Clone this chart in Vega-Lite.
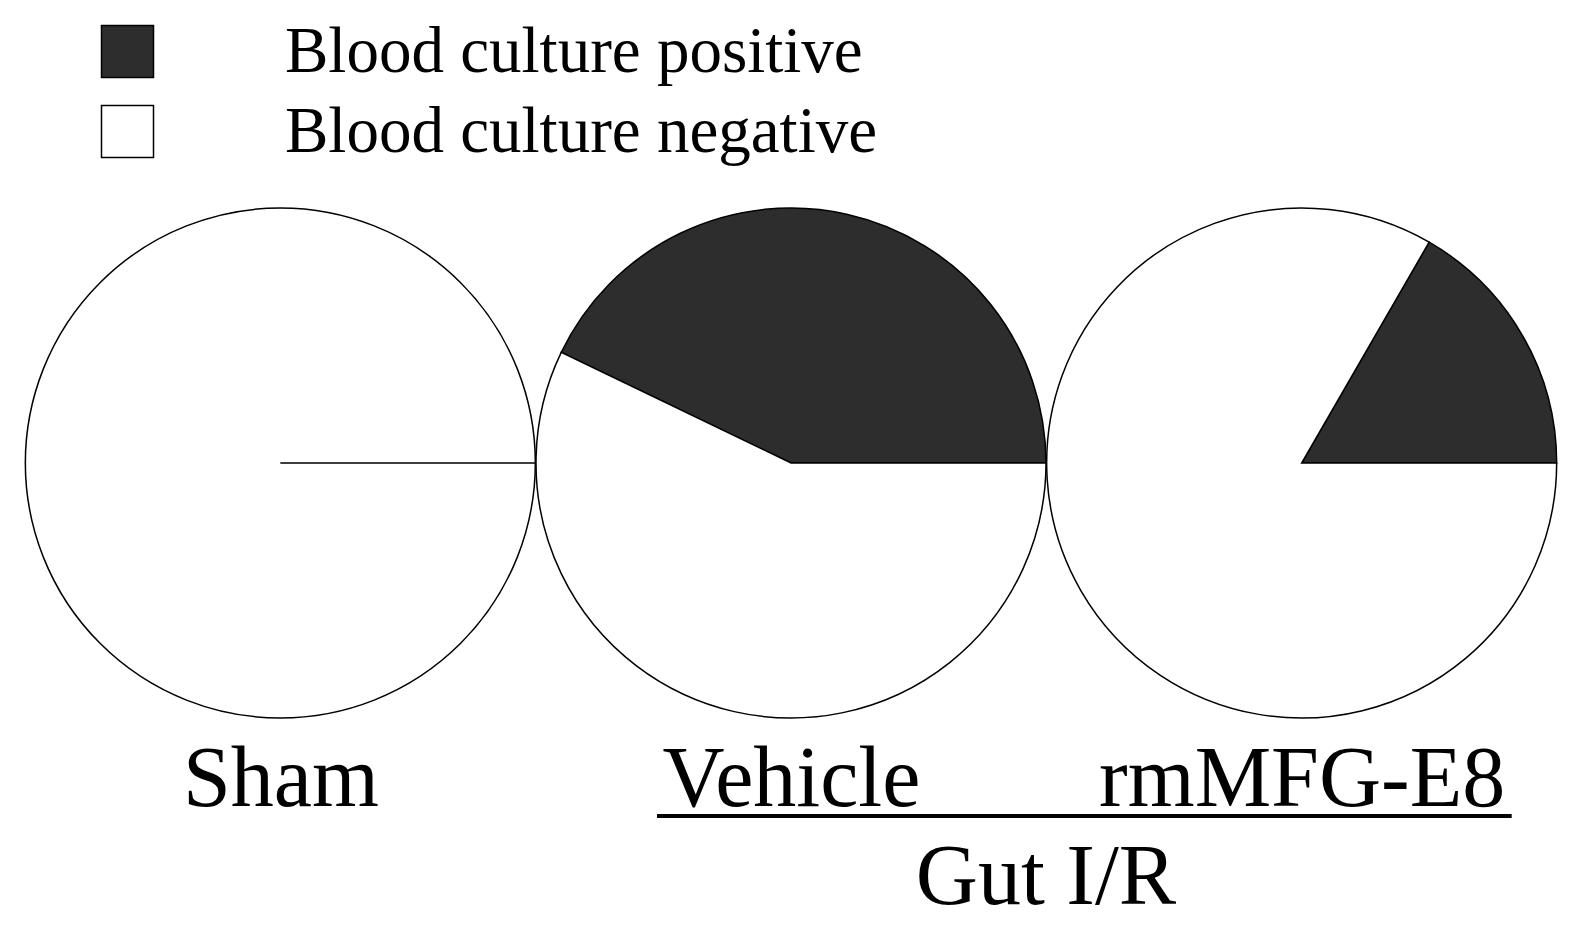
{
  "$schema": "https://vega.github.io/schema/vega-lite/v6.json",
  "autosize": {"type": "none"},
  "width": 1532,
  "height": 512,
  "padding": {"left": 25, "top": 207, "right": 26, "bottom": 212},
  "background": "white",
  "datasets": {
    "cultures": [
      {"group": "Sham", "result": "Blood culture positive", "count": 0},
      {"group": "Sham", "result": "Blood culture negative", "count": 6},
      {"group": "Vehicle", "result": "Blood culture positive", "count": 3},
      {"group": "Vehicle", "result": "Blood culture negative", "count": 4},
      {"group": "rmMFG-E8", "result": "Blood culture positive", "count": 1},
      {"group": "rmMFG-E8", "result": "Blood culture negative", "count": 5}
    ],
    "bracket": [
      {"from": "Vehicle", "to": "rmMFG-E8", "label": "Gut I/R"}
    ]
  },
  "layer": [
    {
      "data": {"name": "cultures"},
      "transform": [
        {
          "stack": "count",
          "groupby": ["group"],
          "sort": [{"field": "result", "order": "ascending"}],
          "offset": "normalize",
          "as": ["t0", "t1"]
        }
      ],
      "mark": {"type": "arc", "radius": 255, "stroke": "black", "strokeWidth": 1.5},
      "encoding": {
        "x": {
          "field": "group",
          "type": "nominal",
          "scale": {"type": "point", "domain": ["Sham", "Vehicle", "rmMFG-E8"], "padding": 0.5},
          "axis": {"title": null}
        },
        "theta": {
          "field": "t0",
          "type": "quantitative",
          "stack": null,
          "scale": {"domain": [0, 1], "range": [1.5707963, 7.8539816]}
        },
        "theta2": {"field": "t1"},
        "color": {
          "field": "result",
          "type": "nominal",
          "scale": {
            "domain": ["Blood culture positive", "Blood culture negative"],
            "range": ["#2d2d2d", "#ffffff"]
          },
          "legend": {
            "title": null,
            "orient": "none",
            "legendX": 70,
            "legendY": -188,
            "symbolType": "square",
            "symbolSize": 2704,
            "symbolStrokeColor": "black",
            "symbolStrokeWidth": 1.5,
            "labelFont": "Liberation Serif",
            "labelFontSize": 65,
            "labelColor": "black",
            "labelOffset": 125,
            "labelLimit": 1000,
            "rowPadding": 14,
            "padding": 0
          }
        }
      }
    },
    {
      "data": {"name": "bracket"},
      "mark": {"type": "rule", "y": "height", "yOffset": 97, "xOffset": -134, "x2Offset": 210, "strokeWidth": 4, "color": "black"},
      "encoding": {
        "x": {"field": "from", "type": "nominal", "scale": {"type": "point", "domain": ["Sham", "Vehicle", "rmMFG-E8"], "padding": 0.5}, "axis": {"title": null}},
        "x2": {"field": "to"}
      }
    },
    {
      "data": {"name": "bracket"},
      "mark": {"type": "text", "y": "height", "yOffset": 185, "xOffset": 255, "baseline": "alphabetic", "align": "center", "font": "Liberation Serif", "fontSize": 86, "color": "black"},
      "encoding": {
        "x": {"field": "from", "type": "nominal", "scale": {"type": "point", "domain": ["Sham", "Vehicle", "rmMFG-E8"], "padding": 0.5}, "axis": {"title": null}},
        "text": {"field": "label"}
      }
    }
  ],
  "config": {
    "view": {"stroke": null},
    "axis": {
      "domain": false,
      "ticks": false,
      "tickSize": 0,
      "grid": false,
      "labelFont": "Liberation Serif",
      "labelFontSize": 86,
      "labelColor": "black",
      "labelAngle": 0,
      "labelBaseline": "alphabetic",
      "labelPadding": 86,
      "labelLimit": 1000
    }
  }
}
